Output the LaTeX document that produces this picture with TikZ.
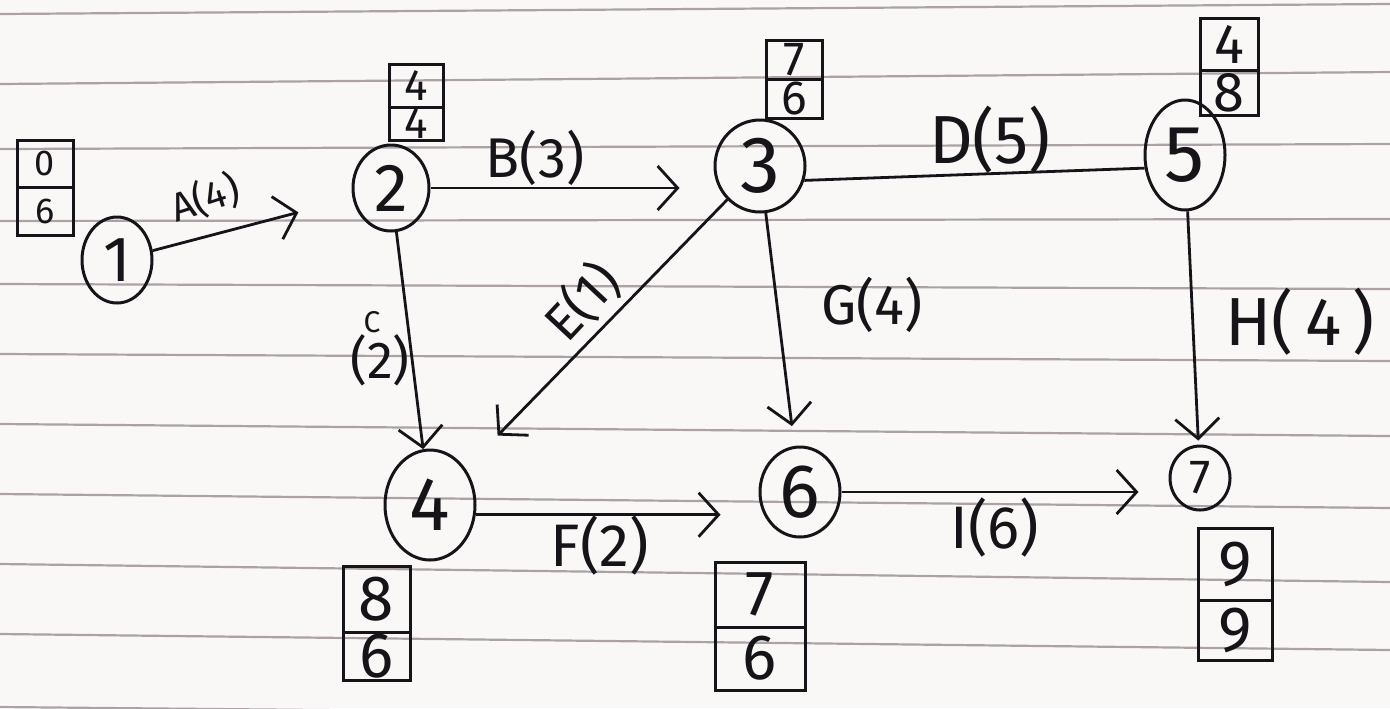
\documentclass[tikz,border=0pt]{standalone}
\usepackage{fontspec}
\setmainfont{Fira Sans}
\usetikzlibrary{arrows.meta,shapes.geometric,fit,calc}
\definecolor{paper}{RGB}{250,248,246}
\definecolor{rulecol}{RGB}{172,162,166}
\definecolor{ink}{RGB}{22,20,24}
% two-cell value box: name, x1, y1, x2, y2, divider y, top, bottom, font size
\newcommand\valbox[9]{%
  \node[vbox, fit={(#2,#3) (#4,#5)}] (#1) {};
  \draw[boxline] (#2,#6) -- (#4,#6);
  \node[font=\fontsize{#9}{#9}\selectfont] (#1t) at ($(#2,#3)!0.5!(#4,#6)$) {#7};
  \node[font=\fontsize{#9}{#9}\selectfont] (#1b) at ($(#2,#6)!0.5!(#4,#5)$) {#8};
}
\tikzset{
  ev/.style={draw=ink, ellipse, line width=1.5pt, inner sep=0pt, text=ink},
  vbox/.style={draw=ink, rectangle, inner sep=0pt, line width=1.5pt},
  boxline/.style={draw=ink, line width=1.5pt},
  act/.style={draw=ink, line width=1.4pt,
    -{Straight Barb[length=10pt,width=22pt,line width=1.4pt]}},
  plain/.style={draw=ink, line width=1.4pt},
  lbl/.style={text=ink, inner sep=0pt},
  ruled/.style={draw=rulecol, line width=1.1pt}
}
\begin{document}
\begin{tikzpicture}[x=0.5pt, y=-0.5pt, every node/.style={text=ink}]
  % the page and its ruling
  \fill[paper] (0,0) rectangle (1390,708);
  \useasboundingbox (0,0) rectangle (1390,708);
  \foreach \l/\r in {14/4, 84/72, 149/144, 221/219, 284/289, 354/361,
                     424/436, 494/508, 564/582, 634/650, 707/720}
    \draw[ruled] (0,\l) -- (1390,\r);

  % events
  \node[ev, minimum width=35pt, minimum height=43pt, font=\fontsize{32}{32}\selectfont] (n1) at (117,260) {1};
  \node[ev, minimum width=38pt, minimum height=43pt, font=\fontsize{34}{34}\selectfont] (n2) at (391,188) {2};
  \node[ev, minimum width=45pt, minimum height=46pt, font=\fontsize{40}{40}\selectfont] (n3) at (760,166) {3};
  \node[ev, minimum width=40pt, minimum height=55pt, font=\fontsize{40}{40}\selectfont] (n5) at (1185,155) {5};
  \node[ev, minimum width=45pt, minimum height=55pt, font=\fontsize{38}{38}\selectfont] (n4) at (430,505) {4};
  \node[ev, minimum width=40pt, minimum height=45pt, font=\fontsize{38}{38}\selectfont] (n6) at (800,492) {6};
  \node[ev, minimum width=30pt, minimum height=32pt, font=\fontsize{24}{24}\selectfont] (n7) at (1200,478) {7};

  % earliest / latest times
  \valbox{b1}{17}{140}{73}{235}{187}{0}{6}{18}
  \valbox{b2}{389}{64}{443}{140}{107}{4}{4}{22}
  \valbox{b3}{766}{40}{822}{118}{79}{7}{6}{24}
  \valbox{b5}{1200}{18}{1258}{115}{70}{4}{8}{28}
  \valbox{b4}{343}{566}{410}{680}{632}{8}{6}{32}
  \valbox{b6}{715}{562}{805}{690}{627}{7}{6}{32}
  \valbox{b7}{1198}{528}{1272}{660}{600}{9}{9}{32}

  % activities
  \draw[act, shorten >=28pt] (n1) -- (n2);
  \draw[act, shorten >=17pt] (n2.east) -- (n2.east -| n3.west);
  \draw[plain] (n3.-18) -- (n5.198);
  \draw[act] (n2) -- (n4);
  \draw[act, shorten >=23pt] (n3) -- (n4);
  \draw[act, shorten >=10pt] (n3) -- (n6);
  \draw[act, shorten >=2pt] (n5) -- (n7);
  \draw[act, shorten >=19pt] (n4.-12) -- (n4.-12 -| n6.west);
  \draw[act, shorten >=15pt] (n6.east) -- (n6.east -| n7.west);

  % activity labels
  \node[lbl, rotate=18, font=\fontsize{20}{20}\selectfont] (la) at (205,198) {A(4)};
  \node[lbl, font=\fontsize{28}{28}\selectfont] (lb) at (535,158) {B(3)};
  \node[lbl, font=\fontsize{34}{34}\selectfont] (ld) at (990,140) {D(5)};
  \node[lbl, font=\fontsize{15}{15}\selectfont] (lc) at (372,322) {C};
  \node[lbl, font=\fontsize{26}{26}\selectfont] (lc2) at (380,360) {(2)};
  \node[lbl, rotate=47, font=\fontsize{26}{26}\selectfont] (le) at (582,302) {E(1)};
  \node[lbl, font=\fontsize{28}{28}\selectfont] (lg) at (872,305) {G(4)};
  \node[lbl, font=\fontsize{34}{34}\selectfont] (lh) at (1300,322) {H(\,4\,)};
  \node[lbl, font=\fontsize{30}{30}\selectfont] (lf) at (600,545) {F(2)};
  \node[lbl, font=\fontsize{30}{30}\selectfont] (li) at (995,527) {I(6)};
\end{tikzpicture}
\end{document}
